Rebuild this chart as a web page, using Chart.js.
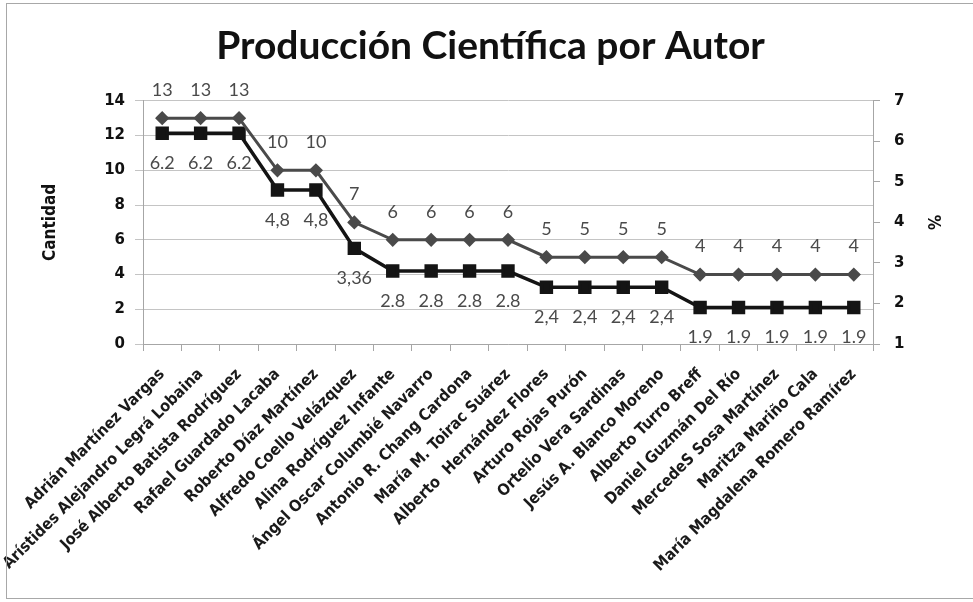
<!DOCTYPE html>
<html>
<head>
<meta charset="utf-8">
<title>Producción Científica por Autor</title>
<script src="https://cdn.jsdelivr.net/npm/chart.js@4"></script>
<style>
    html, body { margin: 0; padding: 0; background: #fff; }
    #wrap { position: relative; width: 973px; height: 602px; }
    #frame {
        position: absolute; left: 6px; top: 3px; width: 970px; height: 594px;
        border: 1px solid #a8a8a8; pointer-events: none;
    }
</style>
</head>
<body>
<div id="wrap">
    <canvas id="chart"></canvas>
    <div id="frame"></div>
</div>
<script>
const authors = [
    'Adrián Martínez Vargas',
    'Arístides Alejandro Legrá Lobaina',
    'José Alberto Batista Rodríguez',
    'Rafael Guardado Lacaba',
    'Roberto Díaz Martínez',
    'Alfredo Coello Velázquez',
    'Alina Rodríguez Infante',
    'Ángel Oscar Columbié Navarro',
    'Antonio R. Chang Cardona',
    'María M. Toirac Suárez',
    'Alberto  Hernández Flores',
    'Arturo Rojas Purón',
    'Ortelio Vera Sardinas',
    'Jesús A. Blanco Moreno',
    'Alberto Turro Breff',
    'Daniel Guzmán Del Río',
    'MercedeS Sosa Martínez',
    'Maritza Mariño Cala',
    'María Magdalena Romero Ramírez'
];

const cantidad = [13, 13, 13, 10, 10, 7, 6, 6, 6, 6, 5, 5, 5, 5, 4, 4, 4, 4, 4];
const porcentaje = [6.2, 6.2, 6.2, 4.8, 4.8, 3.36, 2.8, 2.8, 2.8, 2.8, 2.4, 2.4, 2.4, 2.4, 1.9, 1.9, 1.9, 1.9, 1.9];

// labels as printed on the original (mixed decimal separators)
const cantidadLabels = ['13', '13', '13', '10', '10', '7', '6', '6', '6', '6', '5', '5', '5', '5', '4', '4', '4', '4', '4'];
const porcentajeLabels = ['6.2', '6.2', '6.2', '4,8', '4,8', '3,36', '2.8', '2.8', '2.8', '2.8', '2,4', '2,4', '2,4', '2,4', '1.9', '1.9', '1.9', '1.9', '1.9'];

const leftTicks = [0, 2, 4, 6, 8, 10, 12, 14];
const rightTicks = [1, 2, 3, 4, 5, 6, 7];

const axisFont = { family: 'DejaVu Sans', size: 15, weight: 'bold' };
const labelFont = { family: 'DejaVu Sans Condensed', size: 16, weight: 'bold' };

// draws value labels next to each point
const pointLabels = {
    id: 'pointLabels',
    afterDatasetsDraw(chart) {
        const ctx = chart.ctx;
        ctx.save();
        ctx.font = '18px Lato';
        ctx.fillStyle = '#4a4a4a';
        ctx.textAlign = 'center';
        ctx.textBaseline = 'middle';
        chart.data.datasets.forEach((ds, i) => {
            const meta = chart.getDatasetMeta(i);
            meta.data.forEach((pt, j) => {
                ctx.fillText(ds.valueLabels[j], pt.x, pt.y + ds.labelOffset);
            });
        });
        ctx.restore();
    }
};

const ctx = document.getElementById('chart');

new Chart(ctx, {
    type: 'line',
    data: {
        labels: authors,
        datasets: [{
            label: 'Cantidad',
            data: cantidad,
            yAxisID: 'y',
            borderColor: '#4a4a4a',
            backgroundColor: '#4a4a4a',
            borderWidth: 3,
            pointStyle: 'rectRot',
            pointRadius: 5,
            valueLabels: cantidadLabels,
            labelOffset: -28
        }, {
            label: '%',
            data: porcentaje,
            yAxisID: 'y1',
            borderColor: '#141414',
            backgroundColor: '#141414',
            borderWidth: 3.5,
            pointStyle: 'rect',
            pointRadius: 7,
            valueLabels: porcentajeLabels,
            labelOffset: 30
        }]
    },
    options: {
        responsive: true,
        maintainAspectRatio: false,
        animation: false,
        layout: { padding: { left: 8, right: 0, top: 4, bottom: 4 } },
        plugins: {
            legend: { display: false },
            tooltip: { enabled: false },
            title: {
                display: true,
                text: 'Producción Científica por Autor',
                color: '#111',
                font: { family: 'Lato', size: 39, weight: 'bold', lineHeight: 1.2 },
                padding: { top: 19, bottom: 31 }
            }
        },
        scales: {
            x: {
                offset: true,
                grid: { drawOnChartArea: false, offset: true, tickLength: 7, color: '#a6a6a6' },
                border: { color: '#a6a6a6' },
                ticks: {
                    autoSkip: false, minRotation: 45, maxRotation: 45,
                    font: labelFont, color: '#1a1a1a', padding: 14
                },
                afterFit(s) { s.height = 602 - 344 - 4; }
            },
            y: {
                position: 'left',
                min: leftTicks[0],
                max: leftTicks[leftTicks.length - 1],
                afterBuildTicks(s) { s.ticks = leftTicks.map(v => ({ value: v })); },
                ticks: { font: axisFont, color: '#111', padding: 10 },
                grid: { color: '#c4c4c4', tickLength: 8 },
                border: { color: '#a6a6a6' },
                title: {
                    display: true, text: 'Cantidad', color: '#111',
                    font: { family: 'DejaVu Sans Condensed', size: 17, weight: 'bold', lineHeight: 1.2 },
                    padding: { top: 32, bottom: 0 }
                },
                afterFit(s) { s.width = 135; }
            },
            y1: {
                position: 'right',
                min: rightTicks[0],
                max: rightTicks[rightTicks.length - 1],
                afterBuildTicks(s) { s.ticks = rightTicks.map(v => ({ value: v })); },
                ticks: { font: axisFont, color: '#111', padding: 14 },
                grid: { drawOnChartArea: false, tickLength: 7, color: '#a6a6a6' },
                border: { color: '#a6a6a6' },
                title: {
                    display: true, text: '%', color: '#111',
                    font: { family: 'DejaVu Sans Condensed', size: 17, weight: 'bold', lineHeight: 1.2 },
                    padding: { top: 30, bottom: 0 }
                },
                afterFit(s) { s.width = 100; }
            }
        }
    },
    plugins: [pointLabels]
});
</script>
</body>
</html>
